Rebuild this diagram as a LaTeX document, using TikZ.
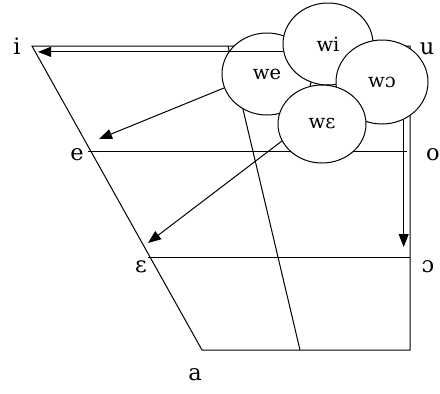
\documentclass[tikz,border=0pt]{standalone}
\usepackage{fontspec}
\setmainfont{DejaVu Serif}
\usetikzlibrary{shapes.geometric,arrows.meta,calc}
\begin{document}
\begin{tikzpicture}[x=1pt,y=-1pt,
  edge/.style={line width=1pt},
  blob/.style={ellipse,draw,fill=white,line width=1pt,minimum width=90pt,
    minimum height=82pt,inner sep=0pt,font=\fontsize{19.5}{21}\selectfont},
  lbl/.style={font=\fontsize{22.5}{24}\selectfont,inner sep=0pt},
  arr/.style={line width=1pt,-{Triangle[length=13pt,width=10pt]}}]
\useasboundingbox (0,0) rectangle (440,394);
% corners of the vowel quadrilateral
\coordinate (TL) at (32,46);
\coordinate (TR) at (410,46);
\coordinate (BR) at (410,350);
\coordinate (BL) at (202,350);
\coordinate (MT) at (228,46);
\coordinate (MB) at (300,350);
\coordinate (EL) at (88,151);
\coordinate (ER) at (407,151);
\coordinate (OL) at (148,257);
\coordinate (OR) at (410,257);
% arrow targets
\coordinate (iT) at (38,52);
\coordinate (eT) at (99,139);
\coordinate (epsT) at (148,243);
\coordinate (oT) at (403,247);

\draw[edge] (TL) -- (TR) -- (BR) -- (BL) -- cycle;
\draw[edge] (MT) -- (MB);
\draw[edge] (EL) -- (ER);
\draw[edge] (OL) -- (OR);

% vowel labels
\node[lbl] (li) at (17,46) {i};
\node[lbl] (lu) at (427,49) {u};
\node[lbl] (le) at (77,155) {e};
\node[lbl] (lo) at (433,155) {o};
\node[lbl] (leps) at (141,267) {ɛ};
\node[lbl] (lopen) at (428,267) {ɔ};
\node[lbl] (la) at (195,375) {a};

% labialised clusters
\node[blob] (we) at (267,74) {we};
\node[blob] (wi) at (328,44) {wi};
\node[blob,minimum width=92pt,minimum height=84pt] (wo) at (382,82) {wɔ};
\node[blob,minimum width=88pt,minimum height=78pt] (weps) at (322,124) {wɛ};

% arrows
\draw[arr] (wi.190) -- (wi.190 -| iT);
\draw[arr] (we.198) -- (eT);
\draw[arr] (weps.203) -- (epsT);
\draw[arr] (wo.300) -- (wo.300 |- oT);
\end{tikzpicture}
\end{document}
